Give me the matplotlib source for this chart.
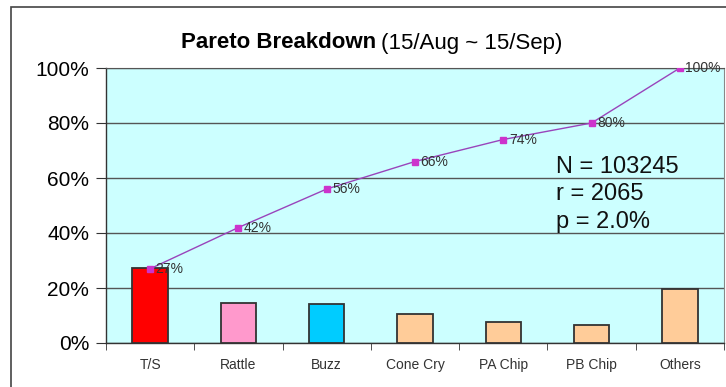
import matplotlib
matplotlib.use("Agg")
import matplotlib.pyplot as plt
from matplotlib.patches import Rectangle

plt.rcParams['font.family'] = ['Liberation Sans', 'DejaVu Sans']

# data
categorias = ['T/S', 'Rattle', 'Buzz', 'Cone Cry', 'PA Chip', 'PB Chip', 'Others']
porcentaje = [27.3, 14.5, 14.2, 10.6, 7.6, 6.6, 19.6]
acumulado = [27, 42, 56, 66, 74, 80, 100]
etiquetas_acum = ['27%', '42%', '56%', '66%', '74%', '80%', '100%']
colores = ['#FF0000', '#FF99CC', '#00CCFF', '#FFCC99', '#FFCC99', '#FFCC99', '#FFCC99']
yTicks = [0, 20, 40, 60, 80, 100]
yTicks_Text = ['0%', '20%', '40%', '60%', '80%', '100%']
stats = ['N = 103245', 'r = 2065', 'p = 2.0%']

fig = plt.figure(figsize=(7.26, 3.87), dpi=100)
fig.patch.set_facecolor('white')

# marco del grafico
fig.patches.append(Rectangle((11/726, -0.1), 1.2, 1 - 7/387 + 0.1, transform=fig.transFigure,
                             fill=False, edgecolor='#444444', lw=1.2))

ax = fig.add_axes([106/726, 1 - 343/387, 618/726, 275/387])
ax.set_facecolor('#CCFFFF')

x = list(range(len(categorias)))
ax.bar(x, porcentaje, width=0.4, color=colores, edgecolor='#333333', linewidth=1.3, zorder=3)
ax.plot(x, acumulado, '-', color='#9944BB', lw=1.0, zorder=4)
ax.plot(x, acumulado, 's', color='#CC33CC', markersize=5, zorder=5)
for xi, yi, t in zip(x, acumulado, etiquetas_acum):
    ax.annotate(t, (xi, yi), xytext=(4, 0), textcoords='offset points',
                va='center', ha='left', fontsize=10, color='#333333', zorder=6)

ax.set_xlim(-0.5, len(categorias) - 0.5)
ax.set_ylim(0, 100)
ax.set_yticks(yTicks, yTicks_Text, fontsize=15)
ax.set_xticks(x, categorias, fontsize=10)
ax.set_xticks([i - 0.5 for i in range(len(categorias) + 1)], minor=True)
ax.tick_params(axis='x', which='major', length=0, pad=11, colors='#333333')
ax.tick_params(axis='x', which='minor', length=5, direction='out', color='#333333')
ax.tick_params(axis='y', length=7, direction='out', color='#333333', pad=5)
ax.yaxis.grid(True, color='#555555', lw=1.0, zorder=1)
ax.set_axisbelow(True)

for s in ['left', 'bottom']:
    ax.spines[s].set_color('#333333')
    ax.spines[s].set_linewidth(1.0)
ax.spines['top'].set_color('#555555')
ax.spines['right'].set_color('#888888')

for i, s in enumerate(stats):
    ax.text(0.728, 0.640 - i * 0.1, s, transform=ax.transAxes, va='center', ha='left',
            fontsize=17, color='#111111', zorder=6)

# titulo: parte en negrita + parte normal, centrado en x=372px
yt = 1 - 43/387
t1 = fig.text(0, yt, 'Pareto Breakdown', ha='left', va='center', fontsize=16, fontweight='bold')
t2 = fig.text(0, yt, '(15/Aug ~ 15/Sep)', ha='left', va='center', fontsize=16)
fig.canvas.draw()
w1 = t1.get_window_extent().width
w2 = t2.get_window_extent().width
gap = 5
x0 = 372 - (w1 + gap + w2) / 2
t1.set_x(x0 / 726)
t2.set_x((x0 + w1 + gap) / 726)

plt.savefig('out.png', dpi=100)
